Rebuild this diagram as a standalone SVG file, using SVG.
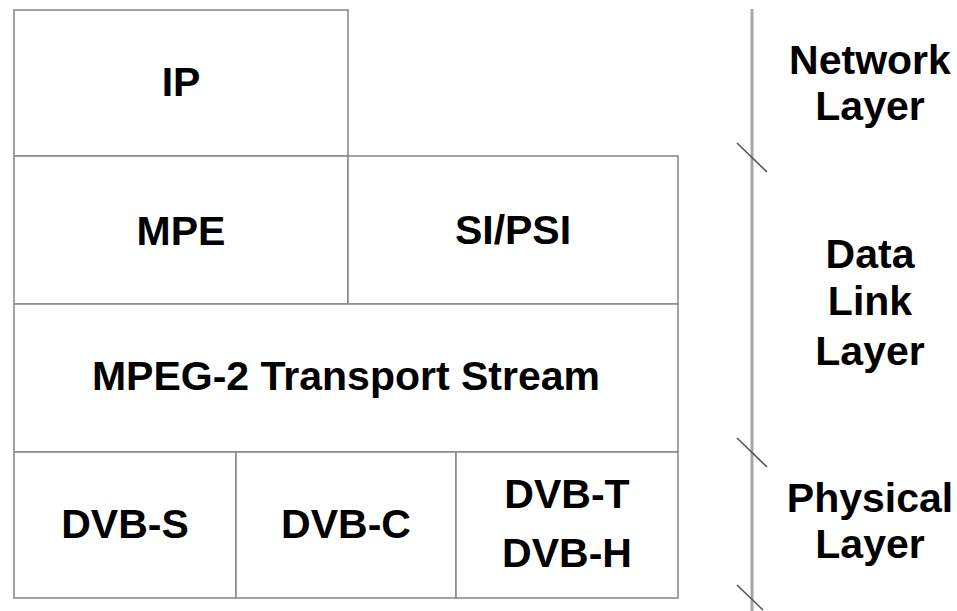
<svg xmlns="http://www.w3.org/2000/svg" width="957" height="611" viewBox="0 0 957 611">
<style>
.box{fill:#fff;stroke:#8c8c8c;stroke-width:1.6}
.t{font-family:"Liberation Sans",Arial,sans-serif;font-weight:bold;font-size:41px;fill:#000;text-anchor:middle}
.axis{stroke:#a6a6a6;stroke-width:3;fill:none}
.tick{stroke:#555;stroke-width:1.6;fill:none}
</style>
<rect width="957" height="611" fill="#fff"/>
<g id="ip"><rect class="box" x="14" y="10" width="334" height="146"/><text class="t" x="181" y="96">IP</text></g>
<g id="mpe"><rect class="box" x="14" y="156" width="334" height="148"/><text class="t" x="181" y="245">MPE</text></g>
<g id="sipsi"><rect class="box" x="348" y="156" width="330" height="148"/><text class="t" x="513" y="244">SI/PSI</text></g>
<g id="mpeg2ts"><rect class="box" x="14" y="304" width="664" height="148"/><text class="t" x="346" y="390">MPEG-2 Transport Stream</text></g>
<g id="dvbs"><rect class="box" x="14" y="452" width="222" height="146"/><text class="t" x="125" y="538">DVB-S</text></g>
<g id="dvbc"><rect class="box" x="236" y="452" width="220" height="146"/><text class="t" x="346" y="538">DVB-C</text></g>
<g id="dvbth"><rect class="box" x="456" y="452" width="222" height="146"/><text class="t" x="567" y="508">DVB-T</text><text class="t" x="567" y="567">DVB-H</text></g>
<g id="connectors">
<line class="axis" x1="752" y1="9" x2="752" y2="611"/>
<line class="tick" x1="737" y1="143" x2="767" y2="172"/>
<line class="tick" x1="737" y1="438" x2="767" y2="467"/>
<line class="tick" x1="737" y1="585" x2="763" y2="610"/>
</g>
<g id="network-layer"><text class="t" x="870" y="74">Network</text><text class="t" x="870" y="120">Layer</text></g>
<g id="data-link-layer"><text class="t" x="870" y="268">Data</text><text class="t" x="870" y="315">Link</text><text class="t" x="870" y="365">Layer</text></g>
<g id="physical-layer"><text class="t" x="870" y="512">Physical</text><text class="t" x="870" y="558">Layer</text></g>
</svg>
